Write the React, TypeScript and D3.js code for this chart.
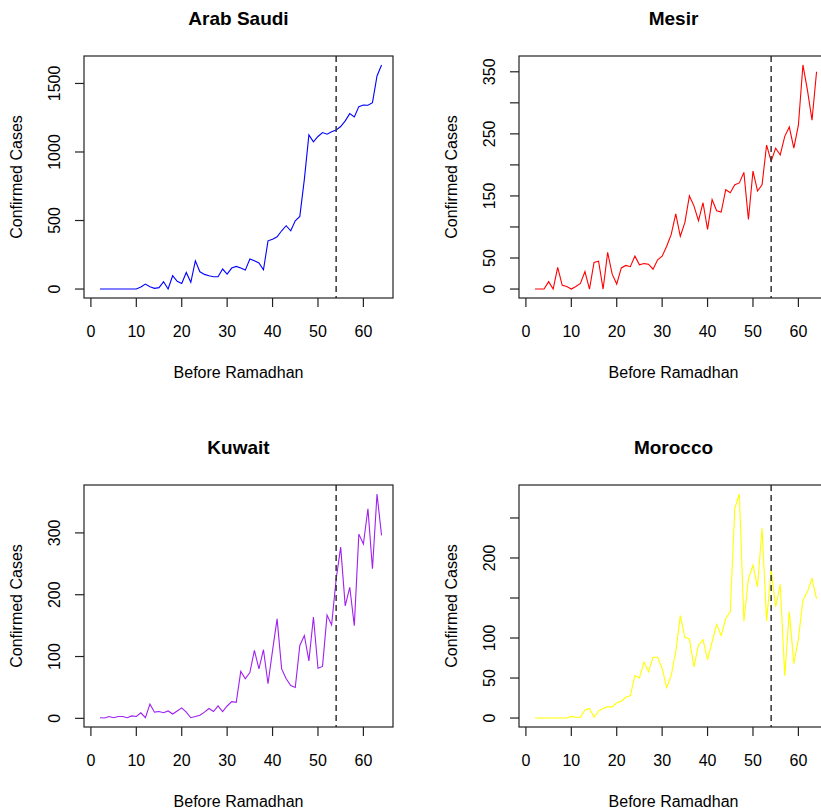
import React from "react";
import * as d3 from "d3";

// ---- data (day index 2..64) ----
const days: number[] = [
  2, 3, 4, 5, 6, 7, 8, 9, 10, 11, 12, 13, 14, 15, 16, 17, 18, 19, 20, 21, 22,
  23, 24, 25, 26, 27, 28, 29, 30, 31, 32, 33, 34, 35, 36, 37, 38, 39, 40, 41,
  42, 43, 44, 45, 46, 47, 48, 49, 50, 51, 52, 53, 54, 55, 56, 57, 58, 59, 60,
  61, 62, 63, 64,
];

const saudi: number[] = [
  0, 0, 0, 0, 0, 0, 0, 0, 0, 15, 36, 17, 5, 10, 53, 0, 97, 56, 41, 121, 49,
  206, 126, 107, 97, 90, 90, 146, 109, 153, 165, 153, 138, 219, 206, 190, 141,
  352, 364, 381, 425, 462, 425, 498, 530, 800, 1125, 1074, 1113, 1142, 1130,
  1147, 1161, 1186, 1227, 1280, 1256, 1331, 1343, 1341, 1360, 1555, 1635,
];

const mesir: number[] = [
  0, 0, 0, 12, 0, 35, 6, 4, 0, 4, 9, 28, 0, 43, 45, 0, 59, 24, 8, 34, 38, 36,
  53, 39, 41, 40, 32, 47, 53, 69, 88, 121, 85, 107, 150, 134, 110, 139, 96, 144,
  126, 124, 160, 155, 168, 171, 188, 112, 190, 158, 168, 232, 206, 227, 216,
  246, 261, 227, 264, 361, 320, 272, 350,
];

const kuwait: number[] = [
  1, 0.5, 3, 1, 3, 3, 1, 4, 3, 9, 1, 23, 10, 11, 9, 12, 7, 12, 17, 10, 1, 3, 5,
  10, 16, 11, 20, 11, 20, 27, 26, 76, 64, 74, 110, 80, 111, 56, 110, 161, 80,
  64, 53, 50, 118, 134, 93, 164, 81, 84, 167, 151, 225, 277, 182, 212, 150, 298,
  282, 339, 242, 363, 296,
];

const morocco: number[] = [
  0, 0, 0, 0, 0, 0, 0, 0, 2, 1, 1, 10, 12, 1, 9, 12, 14, 14, 19, 21, 26, 28, 53,
  50, 70, 58, 76, 76, 62, 38, 53, 83, 128, 101, 99, 64, 91, 98, 73, 95, 117, 103,
  124, 133, 262, 280, 121, 174, 191, 164, 237, 121, 185, 139, 167, 53, 133, 68,
  99, 147, 158, 174, 149,
];

const titles: string[] = ["Arab Saudi", "Mesir", "Kuwait", "Morocco"];
const colors: string[] = ["#0000FF", "#FF0000", "#A020F0", "#FFFF00"];
const xTicks: number[] = [0, 10, 20, 30, 40, 50, 60];
const yTicksSaudi: number[] = [0, 500, 1000, 1500];
const yLabelsSaudi: number[] = [0, 500, 1000, 1500];
const yTicksMesir: number[] = [0, 50, 100, 150, 200, 250, 300, 350];
const yLabelsMesir: number[] = [0, 50, 150, 250, 350];
const yTicksKuwait: number[] = [0, 100, 200, 300];
const yLabelsKuwait: number[] = [0, 100, 200, 300];
const yTicksMorocco: number[] = [0, 50, 100, 150, 200, 250];
const yLabelsMorocco: number[] = [0, 50, 100, 200];
const ramadhanDay = 54;
const xDomainStart = 1;
const xLabel = "Before Ramadhan";
const yLabel = "Confirmed Cases";

const series = [saudi, mesir, kuwait, morocco];
const yTicksAll = [yTicksSaudi, yTicksMesir, yTicksKuwait, yTicksMorocco];
const yLabelsAll = [yLabelsSaudi, yLabelsMesir, yLabelsKuwait, yLabelsMorocco];

const FONT = "'Liberation Sans', Arial, Helvetica, sans-serif";

const W = 821;
const H = 812;
const boxW = 309;
const boxH = 242;
const lefts = [84, 519];
const tops = [56, 485];

function Panel({ idx }: { idx: number }) {
  const left = lefts[idx % 2];
  const top = tops[Math.floor(idx / 2)];
  const right = left + boxW;
  const bottom = top + boxH;
  const vals = series[idx];

  const xMin = xDomainStart;
  const xMax = d3.max(days) as number;
  const xr = xMax - xMin;
  const x = d3
    .scaleLinear()
    .domain([xMin - 0.04 * xr, xMax + 0.04 * xr])
    .range([left, right]);

  const yMin = d3.min(vals) as number;
  const yMax = d3.max(vals) as number;
  const yr = yMax - yMin;
  const y = d3
    .scaleLinear()
    .domain([yMin - 0.04 * yr, yMax + 0.04 * yr])
    .range([bottom, top]);

  const line = d3
    .line<number>()
    .x((_, i) => x(days[i]))
    .y((v) => y(v));

  const clipId = `clip${idx}`;
  const tick = 9;

  return (
    <g>
      <defs>
        <clipPath id={clipId}>
          <rect x={left} y={top} width={boxW} height={boxH} />
        </clipPath>
      </defs>
      <g clipPath={`url(#${clipId})`}>
        <path d={line(vals) || ""} fill="none" stroke={colors[idx]} strokeWidth={1.1} />
        <line
          x1={x(ramadhanDay)}
          x2={x(ramadhanDay)}
          y1={top}
          y2={bottom}
          stroke="#333"
          strokeWidth={1.5}
          strokeDasharray="6,4"
        />
      </g>
      <rect x={left} y={top} width={boxW} height={boxH} fill="none" stroke="#222" strokeWidth={1.2} />
      {/* x axis */}
      {xTicks.map((t) => (
        <g key={"xt" + t}>
          <line x1={x(t)} x2={x(t)} y1={bottom} y2={bottom + tick} stroke="#222" strokeWidth={1.2} />
          <text x={x(t)} y={bottom + 39} textAnchor="middle" fontSize={16} fontFamily={FONT} fill="#000">
            {t}
          </text>
        </g>
      ))}
      {/* y axis */}
      {yTicksAll[idx].map((t) => (
        <line key={"yt" + t} x1={left - tick} x2={left} y1={y(t)} y2={y(t)} stroke="#222" strokeWidth={1.2} />
      ))}
      {yLabelsAll[idx].map((t) => (
        <text
          key={"yl" + t}
          transform={`translate(${left - 24},${y(t)}) rotate(-90)`}
          textAnchor="middle"
          fontSize={16}
          fontFamily={FONT}
          fill="#000"
        >
          {t}
        </text>
      ))}
      <text
        x={(left + right) / 2}
        y={top - 31}
        textAnchor="middle"
        fontSize={19}
        fontWeight="bold"
        fontFamily={FONT}
        fill="#000"
      >
        {titles[idx]}
      </text>
      <text x={(left + right) / 2} y={bottom + 80} textAnchor="middle" fontSize={16} fontFamily={FONT} fill="#000">
        {xLabel}
      </text>
      <text
        transform={`translate(${left - 62},${(top + bottom) / 2}) rotate(-90)`}
        textAnchor="middle"
        fontSize={16}
        fontFamily={FONT}
        fill="#000"
      >
        {yLabel}
      </text>
    </g>
  );
}

export default function App() {
  return (
    <svg
      width={W}
      height={H}
      style={{ position: "absolute", left: 0, top: 0, background: "#fff" }}
    >
      <rect x={0} y={0} width={W} height={H} fill="#fff" />
      {[0, 1, 2, 3].map((i) => (
        <Panel key={i} idx={i} />
      ))}
    </svg>
  );
}
